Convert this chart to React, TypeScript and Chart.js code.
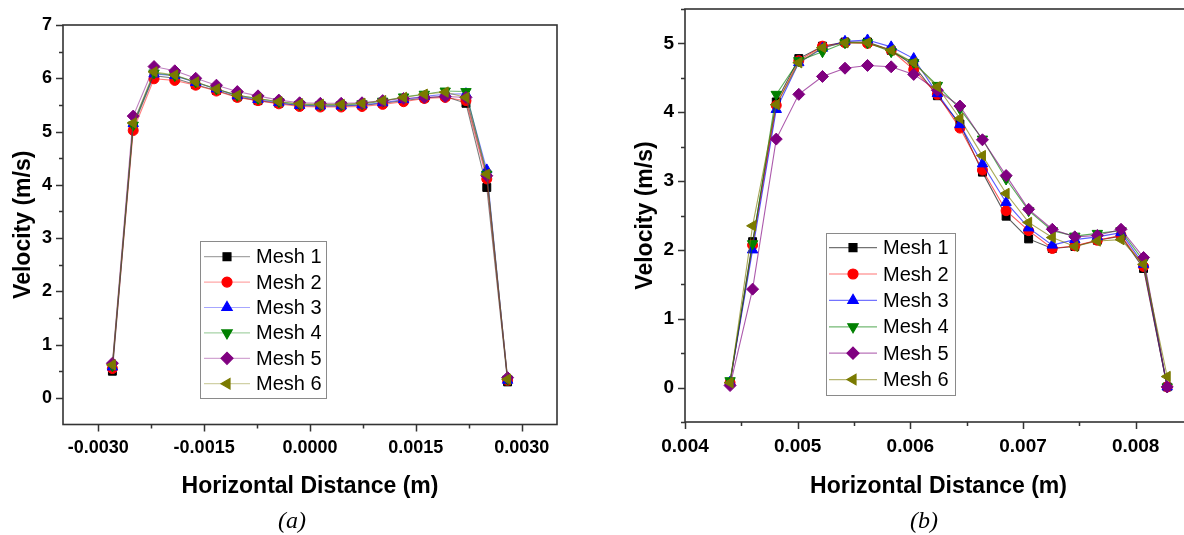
import React, { useEffect, useRef } from 'react';
import { Chart, registerables } from 'chart.js';
import { drawPoint } from 'chart.js/helpers';

Chart.register(...registerables);

// ---------- shared series definitions ----------
const seriesNames = ['Mesh 1', 'Mesh 2', 'Mesh 3', 'Mesh 4', 'Mesh 5', 'Mesh 6'];
const markerColors = ['#000000', '#FF0000', '#0000FF', '#008000', '#800080', '#7A7A00'];
const lineRGB = ['0,0,0', '255,0,0', '0,0,255', '0,128,0', '128,0,128', '122,122,0'];
const pointStyles = ['rect', 'circle', 'triangle', 'triangle', 'rectRot', 'triangle'];
const pointRotations = [0, 0, 0, 180, 0, 270];
const pointRadii = [5.6, 5, 6, 6, 6, 6];

// ---------- panel (a) ----------
const xA = [-0.0028, -0.002505, -0.00221, -0.001916, -0.00162, -0.001326, -0.00103, -0.000737, -0.000442, -0.000147,
  0.000147, 0.000442, 0.000737, 0.00103, 0.001326, 0.00162, 0.001916, 0.00221, 0.002505, 0.0028];
const mesh1A = [0.50, 5.10, 6.05, 6.00, 5.88, 5.77, 5.65, 5.58, 5.53, 5.49, 5.48, 5.48, 5.49, 5.53, 5.58, 5.63, 5.66, 5.53, 3.95, 0.30];
const mesh2A = [0.55, 5.02, 5.99, 5.96, 5.87, 5.76, 5.64, 5.58, 5.52, 5.47, 5.46, 5.46, 5.47, 5.51, 5.56, 5.62, 5.64, 5.58, 4.11, 0.33];
const mesh3A = [0.58, 5.15, 6.08, 6.05, 5.92, 5.80, 5.67, 5.60, 5.54, 5.49, 5.48, 5.48, 5.50, 5.54, 5.60, 5.66, 5.70, 5.71, 4.28, 0.33];
const mesh4A = [0.60, 5.12, 6.10, 6.05, 5.93, 5.80, 5.68, 5.62, 5.56, 5.51, 5.50, 5.50, 5.52, 5.57, 5.65, 5.70, 5.76, 5.75, 4.20, 0.35];
const mesh5A = [0.65, 5.29, 6.22, 6.14, 6.00, 5.87, 5.75, 5.67, 5.59, 5.54, 5.53, 5.53, 5.54, 5.58, 5.62, 5.64, 5.66, 5.64, 4.17, 0.38];
const mesh6A = [0.62, 5.16, 6.12, 6.06, 5.93, 5.80, 5.68, 5.62, 5.56, 5.52, 5.51, 5.51, 5.53, 5.58, 5.64, 5.70, 5.74, 5.64, 4.20, 0.35];
const xTicksA = [-0.003, -0.0015, 0, 0.0015, 0.003];
const xTickLabelsA = ['-0.0030', '-0.0015', '0.0000', '0.0015', '0.0030'];
const yTicksA = [0, 1, 2, 3, 4, 5, 6, 7];
const yTickLabelsA = ['0', '1', '2', '3', '4', '5', '6', '7'];

// ---------- panel (b) ----------
const xB = [0.00440, 0.00460, 0.00481, 0.00501, 0.00522, 0.00542, 0.00562, 0.00583, 0.00603, 0.00624,
  0.00644, 0.00664, 0.00685, 0.00705, 0.00726, 0.00746, 0.00766, 0.00787, 0.00807, 0.00828];
const mesh1B = [0.07, 2.12, 4.15, 4.78, 4.96, 5.02, 5.02, 4.90, 4.68, 4.24, 3.83, 3.13, 2.49, 2.16, 2.02, 2.05, 2.14, 2.20, 1.73, 0.01];
const mesh2B = [0.07, 2.07, 4.10, 4.75, 4.96, 5.01, 5.00, 4.90, 4.62, 4.26, 3.77, 3.16, 2.57, 2.28, 2.02, 2.06, 2.14, 2.21, 1.76, 0.01];
const mesh3B = [0.08, 2.00, 4.04, 4.72, 4.93, 5.03, 5.05, 4.95, 4.78, 4.27, 3.82, 3.25, 2.69, 2.32, 2.07, 2.15, 2.19, 2.25, 1.79, 0.01];
const mesh4B = [0.10, 2.09, 4.26, 4.75, 4.88, 5.01, 5.01, 4.88, 4.72, 4.39, 4.05, 3.61, 3.03, 2.57, 2.28, 2.20, 2.24, 2.28, 1.84, 0.01];
const mesh5B = [0.03, 1.43, 3.61, 4.26, 4.52, 4.64, 4.68, 4.66, 4.55, 4.32, 4.09, 3.60, 3.08, 2.59, 2.30, 2.19, 2.21, 2.30, 1.89, 0.01];
const mesh6B = [0.07, 2.35, 4.11, 4.72, 4.94, 5.01, 5.01, 4.90, 4.72, 4.37, 3.91, 3.37, 2.82, 2.40, 2.18, 2.05, 2.13, 2.15, 1.79, 0.16];
const xTicksB = [0.004, 0.005, 0.006, 0.007, 0.008];
const xTickLabelsB = ['0.004', '0.005', '0.006', '0.007', '0.008'];
const yTicksB = [0, 1, 2, 3, 4, 5];
const yTickLabelsB = ['0', '1', '2', '3', '4', '5'];

const xTitle = 'Horizontal Distance (m)';
const yTitle = 'Velocity (m/s)';

const SANS = '"Liberation Sans", Arial, sans-serif';

const framePlugin = {
  id: 'frame',
  afterDraw(chart: any, _args: any, o: any) {
    const { ctx, chartArea: a, scales } = chart;
    ctx.save();
    // frame
    ctx.strokeStyle = '#333333';
    ctx.lineWidth = 1.6;
    ctx.strokeRect(a.left, a.top, a.right - a.left, a.bottom - a.top);
    // ticks
    ctx.lineWidth = 1.5;
    const yMaj: number[] = o.yTicks;
    const xMaj: number[] = o.xTicks;
    const ys = scales.y, xs = scales.x;
    const yStep = yMaj[1] - yMaj[0];
    const xStep = xMaj[1] - xMaj[0];
    ctx.beginPath();
    for (let v = yMaj[0] - yStep; v <= yMaj[yMaj.length - 1] + yStep + 1e-12; v += yStep / 2) {
      const p = Math.round(ys.getPixelForValue(v)) + 0.5;
      if (p < a.top - 0.5 || p > a.bottom + 0.5) continue;
      const major = yMaj.some((m) => Math.abs(m - v) < yStep / 10);
      ctx.moveTo(a.left - (major ? 7 : 4), p);
      ctx.lineTo(a.left, p);
    }
    for (let v = xMaj[0] - xStep; v <= xMaj[xMaj.length - 1] + xStep + 1e-12; v += xStep / 2) {
      const p = Math.round(xs.getPixelForValue(v)) + 0.5;
      if (p < a.left - 0.5 || p > a.right + 0.5) continue;
      const major = xMaj.some((m) => Math.abs(m - v) < xStep / 10);
      ctx.moveTo(p, a.bottom);
      ctx.lineTo(p, a.bottom + (major ? 7 : 4));
    }
    ctx.stroke();
    // axis titles
    ctx.fillStyle = '#000';
    ctx.font = `bold ${o.titleSize}px ${SANS}`;
    ctx.textAlign = 'center';
    ctx.textBaseline = 'middle';
    ctx.fillText(o.xTitle, (a.left + a.right) / 2, o.xTitleY);
    ctx.save();
    ctx.translate(o.yTitleX, (a.top + a.bottom) / 2);
    ctx.rotate(-Math.PI / 2);
    ctx.fillText(o.yTitle, 0, 0);
    ctx.restore();
    // legend
    const L = o.legend;
    ctx.strokeStyle = '#8a8a8a';
    ctx.lineWidth = 1;
    ctx.strokeRect(L.x0 + 0.5, L.y0 + 0.5, L.x1 - L.x0, L.y1 - L.y0);
    ctx.font = `20px ${SANS}`;
    ctx.textAlign = 'left';
    seriesNames.forEach((name, i) => {
      const y = L.rowY0 + i * L.rowH;
      ctx.strokeStyle = `rgba(${lineRGB[i]},${o.lineAlpha})`;
      ctx.lineWidth = 1.2;
      ctx.beginPath();
      ctx.moveTo(L.lineX0, y);
      ctx.lineTo(L.lineX1, y);
      ctx.stroke();
      ctx.fillStyle = markerColors[i];
      ctx.strokeStyle = markerColors[i];
      drawPoint(ctx, {
        pointStyle: pointStyles[i],
        rotation: pointRotations[i],
        radius: pointRadii[i],
        borderWidth: 1,
      } as any, (L.lineX0 + L.lineX1) / 2, y);
      ctx.fillStyle = '#000';
      ctx.fillText(name, L.textX, y + 1);
    });
    ctx.restore();
  },
};

function buildDatasets(x: number[], series: number[][], alpha: number) {
  return series.map((vals, i) => ({
    label: seriesNames[i],
    data: vals.map((v, k) => ({ x: x[k], y: v })),
    borderColor: `rgba(${lineRGB[i]},${alpha})`,
    backgroundColor: markerColors[i],
    borderWidth: 1.1,
    pointStyle: pointStyles[i],
    pointRotation: pointRotations[i],
    pointRadius: pointRadii[i],
    pointBackgroundColor: markerColors[i],
    pointBorderColor: markerColors[i],
    pointBorderWidth: 1,
    tension: 0,
    fill: false,
    order: 10 - i,
    clip: false,
  }));
}

function makeConfig(p: any) {
  const tickFont = { family: SANS, weight: 'bold', size: p.tickSize };
  return {
    type: 'line',
    data: { datasets: buildDatasets(p.x, p.series, p.lineAlpha) },
    options: {
      responsive: false,
      animation: false,
      events: [],
      layout: { padding: { left: 0, top: p.top, right: p.padRight, bottom: 0 } },
      plugins: {
        legend: { display: false },
        tooltip: { enabled: false },
        frame: {
          xTicks: p.xTicks, yTicks: p.yTicks, xTitle, yTitle, titleSize: p.titleSize,
          xTitleY: p.xTitleY, yTitleX: p.yTitleX, legend: p.legend, lineAlpha: p.legendAlpha,
        },
      },
      scales: {
        x: {
          type: 'linear', min: p.xMin, max: p.xMax,
          afterFit: (s: any) => { s.height = p.xHeight; s.paddingLeft = 0; s.paddingRight = 0; },
          afterBuildTicks: (s: any) => { s.ticks = p.xTicks.map((v: number) => ({ value: v })); },
          ticks: {
            autoSkip: false, maxRotation: 0, minRotation: 0, padding: p.xPad, color: '#000', font: tickFont,
            callback: (v: number) => p.xLabels[p.xTicks.indexOf(v)],
          },
          grid: { display: false, drawTicks: false },
          border: { display: false },
        },
        y: {
          type: 'linear', min: p.yMin, max: p.yMax,
          afterFit: (s: any) => { s.width = p.left; s.paddingTop = 0; s.paddingBottom = 0; },
          afterBuildTicks: (s: any) => { s.ticks = p.yTicks.map((v: number) => ({ value: v })); },
          ticks: {
            autoSkip: false, padding: p.yPad, color: '#000', font: tickFont,
            callback: (v: number) => p.yLabels[p.yTicks.indexOf(v)],
          },
          grid: { display: false, drawTicks: false },
          border: { display: false },
        },
      },
    },
    plugins: [framePlugin],
  };
}

const panelA = {
  x: xA, series: [mesh1A, mesh2A, mesh3A, mesh4A, mesh5A, mesh6A],
  xTicks: xTicksA, xLabels: xTickLabelsA, yTicks: yTicksA, yLabels: yTickLabelsA,
  xMin: -0.0035, xMax: 0.0035, yMin: -0.5, yMax: 7,
  width: 600, height: 535, left: 63, top: 25, padRight: 43, xHeight: 110.5,
  tickSize: 18, titleSize: 23, xPad: 13, yPad: 11, lineAlpha: 0.5, legendAlpha: 0.35,
  xTitleY: 487, yTitleX: 24,
  legend: { x0: 200, y0: 241, x1: 326, y1: 398, rowY0: 256.7, rowH: 25.4, lineX0: 204, lineX1: 250, textX: 256 },
};

const panelB = {
  x: xB, series: [mesh1B, mesh2B, mesh3B, mesh4B, mesh5B, mesh6B],
  xTicks: xTicksB, xLabels: xTickLabelsB, yTicks: yTicksB, yLabels: yTickLabelsB,
  xMin: 0.004, xMax: 0.0085, yMin: -0.5, yMax: 5.5,
  width: 620, height: 535, left: 85, top: 9, padRight: 28, xHeight: 113,
  tickSize: 19, titleSize: 23, xPad: 13, yPad: 11, lineAlpha: 0.65, legendAlpha: 0.55,
  xTitleY: 487, yTitleX: 46,
  legend: { x0: 226, y0: 233, x1: 355, y1: 395, rowY0: 247.6, rowH: 26.4, lineX0: 229, lineX1: 277, textX: 283 },
};

function Panel({ p, left }: { p: any; left: number }) {
  const ref = useRef<HTMLCanvasElement>(null);
  useEffect(() => {
    const chart = new Chart(ref.current as HTMLCanvasElement, makeConfig(p) as any);
    return () => chart.destroy();
  }, [p]);
  return (
    <div style={{ position: 'absolute', left, top: 0, width: p.width, height: p.height }}>
      <canvas ref={ref} width={p.width} height={p.height} style={{ width: p.width, height: p.height, display: 'block' }} />
    </div>
  );
}

const captionStyle: React.CSSProperties = {
  position: 'absolute', top: 506, fontFamily: '"Liberation Serif", "Times New Roman", serif',
  fontStyle: 'italic', fontSize: 24, lineHeight: '28px', transform: 'translateX(-50%)', color: '#000',
};

export default function App() {
  return (
    <div style={{ position: 'fixed', left: 0, top: 0, width: 1184, height: 535, overflow: 'hidden', background: '#fff' }}>
      <Panel p={panelA} left={0} />
      <Panel p={panelB} left={600} />
      <div style={{ ...captionStyle, left: 292 }}>(a)</div>
      <div style={{ ...captionStyle, left: 924 }}>(b)</div>
    </div>
  );
}
